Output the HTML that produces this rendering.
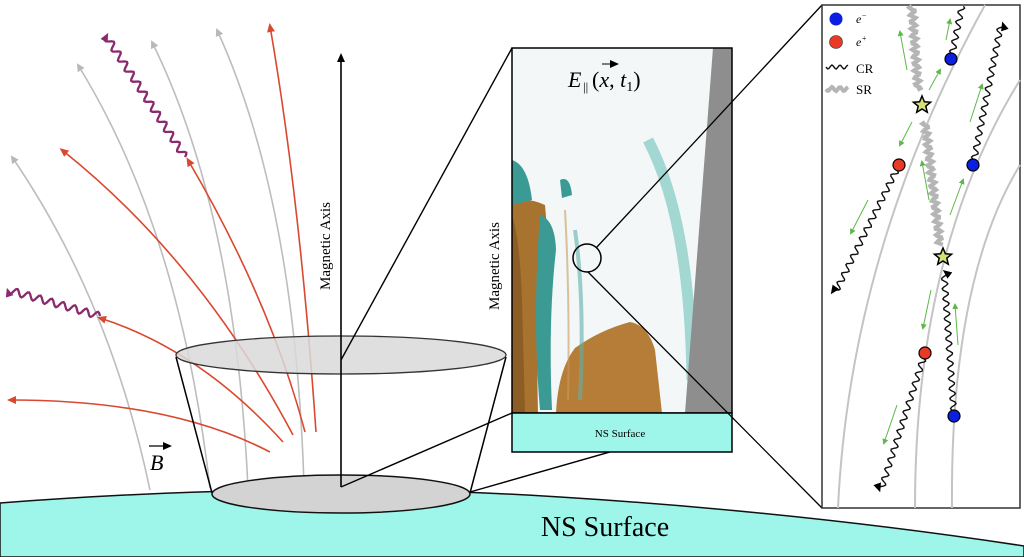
<!DOCTYPE html>
<html><head><meta charset="utf-8"><style>
html,body{margin:0;padding:0;background:#fff;}
svg{display:block;}
text{font-family:"Liberation Serif",serif;}
</style></head><body>
<svg id="s" width="1024" height="557" viewBox="0 0 1024 557" xmlns="http://www.w3.org/2000/svg">
<defs>
<marker id="ag" markerWidth="8" markerHeight="8" refX="6" refY="4" orient="auto" markerUnits="userSpaceOnUse"><path d="M0,0 L8,4 L0,8 Z" fill="#b8b8b8"/></marker>
<marker id="ar" markerWidth="9" markerHeight="8" refX="6" refY="4" orient="auto" markerUnits="userSpaceOnUse"><path d="M0,0 L9,4 L0,8 Z" fill="#d9482f"/></marker>
<marker id="ak" markerWidth="9" markerHeight="8" refX="6" refY="4" orient="auto" markerUnits="userSpaceOnUse"><path d="M0,0 L9,4 L0,8 Z" fill="#000"/></marker>
<marker id="ap" markerWidth="9" markerHeight="8" refX="6" refY="4" orient="auto" markerUnits="userSpaceOnUse"><path d="M0,0 L9,4 L0,8 Z" fill="#8a2a6e"/></marker>
<marker id="agr" markerWidth="6" markerHeight="6" refX="4" refY="3" orient="auto" markerUnits="userSpaceOnUse"><path d="M0,0 L6,3 L0,6 Z" fill="#5cb848"/></marker>
</defs>
<!-- NS surface -->
<path d="M0,503 Q300,480 560,497 Q800,512 1024,546 L1024,557 L0,557 Z" fill="#9ef6ea" stroke="#111" stroke-width="1.5"/>
<text x="605" y="536" font-size="28" text-anchor="middle">NS Surface</text>

<!-- gray field lines -->
<g fill="none" stroke="#bdbdbd" stroke-width="1.6">
<path d="M150,490 Q110,300 12,157" marker-end="url(#ag)"/>
<path d="M210,488 Q180,230 78,65" marker-end="url(#ag)"/>
<path d="M248,488 Q235,210 152,42" marker-end="url(#ag)"/>
<path d="M304,485 Q295,200 217,30" marker-end="url(#ag)"/>
</g>
<!-- red lines -->
<g fill="none" stroke="#d9482f" stroke-width="1.6">
<path d="M316,432 Q300,200 270,26" marker-end="url(#ar)"/>
<path d="M305,432 Q270,300 188,160" marker-end="url(#ar)"/>
<path d="M293,435 Q200,260 62,150" marker-end="url(#ar)"/>
<path d="M283,442 Q200,350 100,318" marker-end="url(#ar)"/>
<path d="M270,452 Q170,400 10,400" marker-end="url(#ar)"/>
</g>
<g id="waves"></g>

<!-- cone -->
<path d="M176,357 L212,493 M506,357 L470,493" stroke="#000" stroke-width="1.5"/>
<ellipse cx="341" cy="355" rx="165" ry="19" fill="#d9d9d9" fill-opacity="0.85" stroke="#333" stroke-width="1.3"/>
<ellipse cx="341" cy="494" rx="129" ry="19" fill="#d3d3d3" stroke="#111" stroke-width="1.5"/>
<text transform="translate(150,470)" font-size="22" font-style="italic">B</text>
<path d="M149,446 L169,446" stroke="#000" stroke-width="1.2" marker-end="url(#ak)"/>
<!-- axis -->
<line x1="341" y1="487" x2="341" y2="56" stroke="#000" stroke-width="1.6" marker-end="url(#ak)"/>
<text transform="translate(330,290) rotate(-90)" font-size="15">Magnetic Axis</text>
<!-- connectors -->
<g stroke="#000" stroke-width="1.4">
<line x1="341" y1="360" x2="512" y2="48"/>
<line x1="341" y1="487" x2="512" y2="413"/>
<line x1="470" y1="492" x2="732" y2="417"/>
</g>

<!-- middle panel heatmap -->
<rect x="512" y="48" width="220" height="365" fill="#f3f7f8"/>
<path d="M512,200 Q530,198 545,205 L548,240 Q535,300 538,413 L512,413 Z" fill="#a8732f"/>
<path d="M512,215 L512,413 L525,413 L522,300 Q520,240 512,215Z" fill="#7a4f1e" opacity="0.6"/>
<path d="M540,215 Q555,220 556,250 Q548,320 552,410 L540,410 Q532,320 540,215Z" fill="#3b9a93"/>
<path d="M512,160 Q528,165 532,200 L512,205 Z" fill="#3b9a93"/>
<path d="M560,180 Q570,175 572,195 L562,198 Z" fill="#3b9a93"/>
<path d="M556,413 Q558,370 575,348 Q600,330 630,322 Q648,325 655,350 L662,413 Z" fill="#b57d37"/>
<path d="M648,140 Q690,220 692,380" fill="none" stroke="#8fcfc8" stroke-width="11" opacity="0.8"/>
<path d="M575,230 Q585,300 580,400" fill="none" stroke="#5fb1aa" stroke-width="4" opacity="0.6"/>
<path d="M565,210 Q570,300 568,400" fill="none" stroke="#c99a5a" stroke-width="2" opacity="0.6"/>
<path d="M713,48 L732,48 L732,413 L685,413 Z" fill="#8e8e8e"/>
<rect x="512" y="48" width="220" height="365" fill="none" stroke="#000" stroke-width="1.5"/>
<rect x="512" y="413" width="220" height="39" fill="#9ef6ea" stroke="#000" stroke-width="1.5"/>
<text x="620" y="437" font-size="11" text-anchor="middle">NS Surface</text>
<text x="568" y="87" font-size="22" font-style="italic">E</text>
<text x="583" y="91" font-size="13">||</text>
<text x="592" y="87" font-size="22">(<tspan font-style="italic">x</tspan>, <tspan font-style="italic">t</tspan><tspan font-size="14" dy="4">1</tspan><tspan dy="-4">)</tspan></text>
<path d="M602,64 L616,64" stroke="#000" stroke-width="1" marker-end="url(#ak)"/>
<text transform="translate(499,310) rotate(-90)" font-size="15">Magnetic Axis</text>
<circle cx="587" cy="258" r="14" fill="none" stroke="#000" stroke-width="1.5"/>
<line x1="596" y1="248" x2="822" y2="5" stroke="#000" stroke-width="1.3"/>
<line x1="588" y1="272" x2="822" y2="508" stroke="#000" stroke-width="1.3"/>

<!-- right panel -->
<rect x="822" y="5" width="198" height="503" fill="#fff" stroke="#333" stroke-width="1.5"/>
<g fill="none" stroke="#c4c4c4" stroke-width="2">
<path d="M838,508 Q850,250 985,5"/>
<path d="M915,508 Q915,250 1020,80"/>
<path d="M952,508 Q950,280 1020,165"/>
</g>
<g id="rw"></g>
<g stroke="#5cb848" stroke-width="1" marker-end="url(#agr)">
<line x1="907" y1="70" x2="900" y2="32"/>
<line x1="946" y1="40" x2="950" y2="20"/>
<line x1="929" y1="90" x2="940" y2="70"/>
<line x1="912" y1="122" x2="900" y2="145"/>
<line x1="970" y1="122" x2="982" y2="85"/>
<line x1="929" y1="200" x2="922" y2="162"/>
<line x1="950" y1="215" x2="963" y2="180"/>
<line x1="868" y1="200" x2="851" y2="233"/>
<line x1="931" y1="290" x2="923" y2="328"/>
<line x1="958" y1="345" x2="955" y2="305"/>
<line x1="897" y1="405" x2="884" y2="443"/>
</g>
<g stroke="#000" stroke-width="1.2">
<circle cx="951" cy="59" r="6" fill="#0a1fe0"/>
<circle cx="973" cy="165" r="6" fill="#0a1fe0"/>
<circle cx="954" cy="416" r="6" fill="#0a1fe0"/>
<circle cx="899" cy="165" r="6" fill="#e83a25"/>
<circle cx="925" cy="353" r="6" fill="#e83a25"/>
<circle cx="836" cy="19" r="6.5" fill="#0a1fe0" stroke="none"/>
<circle cx="836" cy="42" r="6.5" fill="#e83a25" stroke="#333" stroke-width="0.6"/>
</g>
<g id="stars" fill="#d8e07a" stroke="#000" stroke-width="1.5"></g>
<text x="856" y="23" font-size="12" font-style="italic">e<tspan font-size="8" dy="-5">−</tspan></text>
<text x="856" y="46" font-size="12" font-style="italic">e<tspan font-size="8" dy="-5">+</tspan></text>
<text x="856" y="73" font-size="13">CR</text>
<text x="856" y="94" font-size="13">SR</text>
</svg>
<script>
var NS="http://www.w3.org/2000/svg";
function wave(g,x1,y1,x2,y2,amp,wl,color,w,marker){
 var dx=x2-x1,dy=y2-y1,L=Math.hypot(dx,dy),ux=dx/L,uy=dy/L,nx=-uy,ny=ux;
 var d="",n=Math.max(2,Math.round(L/1.5));
 for(var i=0;i<=n;i++){var t=i/n*L;var a=amp*Math.sin(t/wl*2*Math.PI);
  var x=x1+ux*t+nx*a,y=y1+uy*t+ny*a;d+=(i?"L":"M")+x.toFixed(1)+","+y.toFixed(1);}
 var p=document.createElementNS(NS,"path");p.setAttribute("d",d);p.setAttribute("fill","none");
 p.setAttribute("stroke",color);p.setAttribute("stroke-width",w);
 if(marker)p.setAttribute("marker-end",marker);document.getElementById(g).appendChild(p);}
wave("waves",185,157,106,36,3.5,12,"#8a2a6e",2.3,"url(#ap)");
wave("waves",100,316,8,290,3.5,12,"#8a2a6e",2.3,"url(#ap)");
var k="#111";
wave("rw",951,59,962,6,3,10,k,1.4);
wave("rw",973,165,1001,24,3,10,k,1.4,"url(#ak)");
wave("rw",899,165,835,293,3,10,k,1.4,"url(#ak)");
wave("rw",954,416,944,272,3,10,k,1.4,"url(#ak)");
wave("rw",925,353,881,490,3,10,k,1.4,"url(#ak)");
wave("rw",826,67,848,67,2,8,k,1.4);
wave("rw",912,6,918,90,3,7,"#b5b5b5",4);
wave("rw",925,122,940,245,3,7,"#b5b5b5",4);
wave("rw",826,89,848,89,2,8,"#b5b5b5",4);
function star(cx,cy,R,r){var d="";for(var i=0;i<10;i++){var a=-Math.PI/2+i*Math.PI/5,rr=i%2?r:R;
 d+=(i?"L":"M")+(cx+rr*Math.cos(a)).toFixed(1)+","+(cy+rr*Math.sin(a)).toFixed(1);}
 var p=document.createElementNS(NS,"path");p.setAttribute("d",d+"Z");document.getElementById("stars").appendChild(p);}
star(922,105,9,4);star(943,257,9,4);
</script>
</body></html>
